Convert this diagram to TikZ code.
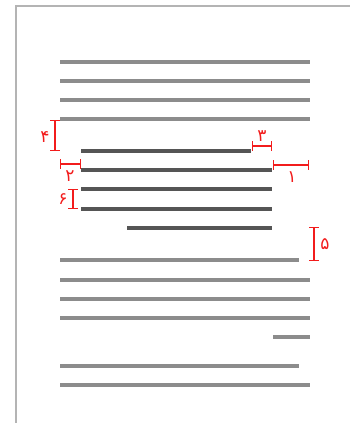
\documentclass[tikz,border=0pt]{standalone}
\usepackage{fontspec}
\newfontfamily\arabicfont[Script=Arabic]{DejaVu Sans}
\definecolor{textgray}{HTML}{8C8C8C}
\definecolor{quotegray}{HTML}{555555}
\definecolor{pageborder}{HTML}{B4B4B4}
\definecolor{markred}{HTML}{F21C1C}
\begin{document}
\begin{tikzpicture}[x=1pt, y=-1pt,
            textline/.style={draw=textgray, line width=4pt},
            quoteline/.style={draw=quotegray, line width=4pt},
            measure/.style={draw=markred, line width=1.4pt, |-|},
            digit/.style={text=markred, font=\arabicfont\fontsize{17}{17}\selectfont, inner sep=0pt}
            ]
            \useasboundingbox (0,0) rectangle (350,423);
            \draw[pageborder, line width=2pt] (16,423) -- (16,6) -- (350,6);

            % paragraph above
            \foreach \y in {62,81,100,119}
                \draw[textline] (60,\y) -- (310,\y);

            % indented block
            \draw[quoteline] (81,151) -- (251,151);
            \foreach \y in {170,189,209}
                \draw[quoteline] (81,\y) -- (272,\y);
            \draw[quoteline] (127,228) -- (272,228);

            % paragraph below
            \draw[textline] (60,260) -- (299,260);
            \foreach \y in {280,299,318}
                \draw[textline] (60,\y) -- (310,\y);
            \draw[textline] (273,337) -- (310,337);
            \draw[textline] (60,366) -- (299,366);
            \draw[textline] (60,385) -- (310,385);

            % measures
            \draw[measure] (273,165) -- (309,165);
            \node[digit] (one) at (292,177) {۱};
            \draw[measure] (60,164) -- (81,164);
            \node[digit] (two) at (70,176) {۲};
            \draw[measure] (252,146) -- (272,146);
            \node[digit] (three) at (262,136) {۳};
            \draw[measure] (55,120) -- (55,151);
            \node[digit] (four) at (45,137) {۴};
            \draw[measure] (314,227) -- (314,261);
            \node[digit] (five) at (325,244) {۵};
            \draw[measure] (73,189) -- (73,209);
            \node[digit] (six) at (63,199) {۶};
\end{tikzpicture}
\end{document}
